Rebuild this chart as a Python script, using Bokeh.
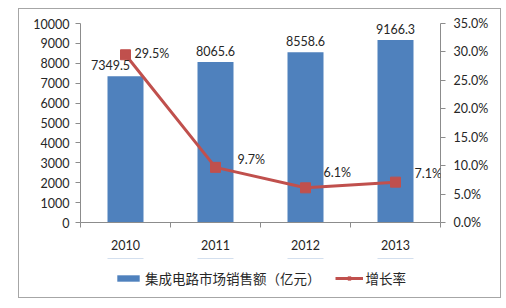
from bokeh.plotting import figure
from bokeh.layouts import column
from bokeh.models import (Range1d, LinearAxis, FixedTicker, PrintfTickFormatter,
                          ColumnDataSource, Legend, LegendItem, LabelSet)
from bokeh.core.properties import value
from bokeh.embed import file_html
from bokeh.resources import INLINE

# ---- data ----
years = ["2010", "2011", "2012", "2013"]
sales = [7349.5, 8065.6, 8558.6, 9166.3]          # 集成电路市场销售额（亿元）
growth = [29.5, 9.7, 6.1, 7.1]                    # 增长率 (%)
sales_labels = ["7349.5", "8065.6", "8558.6", "9166.3"]
growth_labels = ["29.5%", "9.7%", "6.1%", "7.1%"]
left_ticks = [0, 1000, 2000, 3000, 4000, 5000, 6000, 7000, 8000, 9000, 10000]
right_ticks = [0, 5, 10, 15, 20, 25, 30, 35]
series_names = ["集成电路市场销售额（亿元）", "增长率"]

# label offsets (style only)
sales_dx = [-15, 0, 0, 0]
growth_dx = [9, 22, 18, 19]
growth_dy = [-6, 0, 8, 1]

xs = [i + 0.5 for i in range(len(years))]

BLUE = "#4F81BD"
RED = "#C0504D"
AXIS = "#8C8C8C"
TXT = "#262626"
FONT = "Lato"
CJK = "Noto Sans CJK SC"

src = ColumnDataSource(dict(x=xs, sales=sales, growth=growth,
                            slab=sales_labels, glab=growth_labels,
                            sdx=sales_dx, gdx=growth_dx, gdy=growth_dy))

# ---------------- main chart ----------------
p = figure(width=481, height=249, output_backend="svg", toolbar_location=None,
           x_range=Range1d(0, 4), y_range=Range1d(0, 10000),
           min_border_left=61, min_border_right=60, min_border_top=14, min_border_bottom=36)
p.outline_line_color = None
p.xgrid.visible = False
p.ygrid.visible = False
p.background_fill_color = "white"
p.border_fill_color = "white"
p.extra_y_ranges = {"pct": Range1d(0, 35)}

def style_axis(ax):
    ax.axis_line_color = AXIS
    ax.major_tick_line_color = AXIS
    ax.minor_tick_line_color = AXIS
    ax.major_tick_in = 0
    ax.major_tick_out = 5
    ax.minor_tick_in = 0
    ax.minor_tick_out = 0
    ax.major_label_text_font = FONT
    ax.major_label_text_font_size = "12.5px"
    ax.major_label_text_color = TXT

yax = p.yaxis[0]
yax.ticker = FixedTicker(ticks=left_ticks)
style_axis(yax)
yax.major_label_standoff = 6

xax = p.xaxis[0]
xax.ticker = FixedTicker(ticks=xs, minor_ticks=list(range(len(years) + 1)))
style_axis(xax)
xax.major_tick_out = 0
xax.minor_tick_out = 5
xax.major_label_overrides = {x: y for x, y in zip(xs, years)}
xax.major_label_standoff = 12

rax = LinearAxis(y_range_name="pct", ticker=FixedTicker(ticks=right_ticks),
                 formatter=PrintfTickFormatter(format="%.1f%%"))
style_axis(rax)
rax.major_label_standoff = 8
p.add_layout(rax, "right")

p.vbar(x="x", top="sales", width=0.4, bottom=0, source=src,
       fill_color=BLUE, line_color=None)
p.line(x="x", y="growth", source=src, y_range_name="pct",
       line_color=RED, line_width=3)
p.scatter(x="x", y="growth", source=src, y_range_name="pct",
          marker="square", size=10, fill_color=RED, line_color=RED)

p.add_layout(LabelSet(x="x", y="sales", text="slab", source=src, x_offset="sdx", y_offset=6,
                      text_align="center", text_baseline="bottom",
                      text_font=value(FONT), text_font_size="12.5px", text_color=TXT))
p.add_layout(LabelSet(x="x", y="growth", text="glab", source=src, y_range_name="pct",
                      x_offset="gdx", y_offset="gdy",
                      text_align="left", text_baseline="bottom",
                      text_font=value(FONT), text_font_size="12.5px", text_color=TXT))

# ---------------- legend strip ----------------
q = figure(width=481, height=39, output_backend="svg", toolbar_location=None,
           x_range=Range1d(0, 4), y_range=Range1d(-2, -1),
           x_axis_type=None, y_axis_type=None, min_border=0)
q.outline_line_color = None
q.xgrid.visible = False
q.ygrid.visible = False
q.extra_y_ranges = {"pct": Range1d(-2, -1)}
lb = q.vbar(x="x", top="sales", width=0.4, bottom=0, source=src,
            fill_color=BLUE, line_color=None)
ll = q.line(x="x", y="growth", source=src, y_range_name="pct",
            line_color=RED, line_width=3)
lp = q.scatter(x="x", y="growth", source=src, y_range_name="pct",
               marker="square", size=8, fill_color=RED, line_color=RED)

legend = Legend(items=[LegendItem(label=series_names[0], renderers=[lb]),
                       LegendItem(label=series_names[1], renderers=[ll, lp])],
                location="center", orientation="horizontal",
                padding=0, margin=0, spacing=14, label_standoff=3,
                glyph_width=28, glyph_height=8,
                label_text_font=CJK, label_text_font_size="13.5px", label_text_color=TXT,
                border_line_color=None, background_fill_alpha=0)
q.add_layout(legend, "center")

layout = column(p, q, spacing=0)
layout.styles = {"margin-left": "19px", "margin-top": "9px",
                 "outline": "1px solid #A6A6A6"}

open("out.html", "w").write(file_html(layout, INLINE))
